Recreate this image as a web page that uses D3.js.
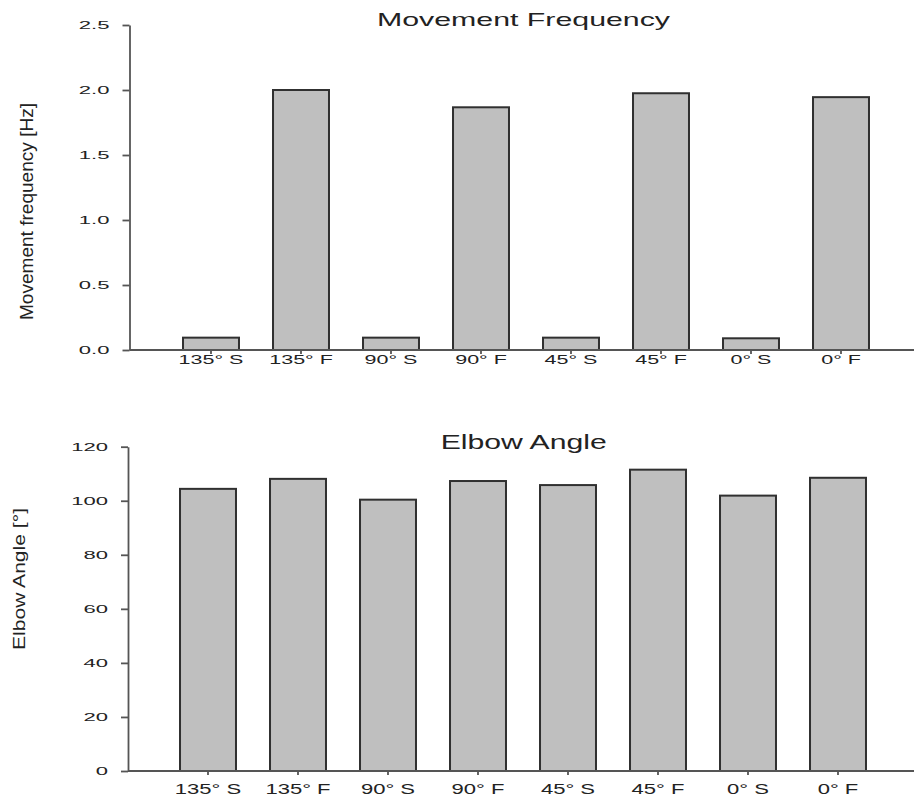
<!DOCTYPE html>
<html>
<head>
<meta charset="utf-8">
<script src="https://cdn.jsdelivr.net/npm/d3@7"></script>
<style>
  html, body { margin: 0; padding: 0; background: #fff; }
  svg { display: block; }
  text { font-family: "Liberation Sans", Arial, sans-serif; fill: #222; }
</style>
</head>
<body>
<svg id="chart" width="914" height="798"></svg>
<script>
// ---- data ----
const categories = ["135° S", "135° F", "90° S", "90° F", "45° S", "45° F", "0° S", "0° F"];
const frequencyValues = [0.095, 2.0, 0.095, 1.867, 0.095, 1.975, 0.09, 1.945];
const elbowAngleValues = [104.4, 108.1, 100.4, 107.3, 105.8, 111.5, 101.9, 108.5];
const frequencyTicks = [0, 0.5, 1.0, 1.5, 2.0, 2.5];
const angleTicks = [0, 20, 40, 60, 80, 100, 120];

const svg = d3.select("#chart");

// stretch text horizontally by factor (glyphs + spacing)
function stretch(sel, factor) {
  sel.each(function() {
    const len = this.getComputedTextLength();
    d3.select(this).attr("textLength", len * factor).attr("lengthAdjust", "spacingAndGlyphs");
  });
}

function panel(cfg) {
  const g = svg.append("g");
  const y = d3.scaleLinear().domain(cfg.yDomain).range([cfg.yBottom, cfg.yTop]);
  const x = d3.scaleBand().domain(categories).range(cfg.xRange)
    .paddingInner(0.378).paddingOuter(0.189);

  // bars
  g.selectAll("rect.bar").data(cfg.values).join("rect")
    .attr("class", "bar")
    .attr("x", (d, i) => x(categories[i]))
    .attr("width", x.bandwidth())
    .attr("y", d => y(d))
    .attr("height", d => y(0) - y(d))
    .attr("fill", "#bfbfbf")
    .attr("stroke", "#303030")
    .attr("stroke-width", 2);

  // x axis line
  g.append("line")
    .attr("x1", cfg.axisX).attr("x2", 914)
    .attr("y1", y(0)).attr("y2", y(0))
    .attr("stroke", "#555").attr("stroke-width", 1.8);

  // x axis ticks + labels
  const xAxis = g.append("g")
    .attr("transform", `translate(0,${y(0)})`)
    .call(d3.axisBottom(x).tickSize(4).tickSizeOuter(0));
  xAxis.select(".domain").remove();
  xAxis.selectAll(".tick line").attr("stroke", "#555").attr("stroke-width", 1.8);
  xAxis.selectAll(".tick text")
    .attr("y", cfg.xLabelBaseline).attr("dy", 0)
    .style("font-size", cfg.xFont + "px")
    .attr("fill", "#333")
    .call(stretch, cfg.xStretch);

  // y axis
  const yAxis = g.append("g")
    .attr("transform", `translate(${cfg.axisX},0)`)
    .call(d3.axisLeft(y).tickValues(cfg.yTicks).tickFormat(cfg.yFormat).tickSize(7).tickSizeOuter(0));
  yAxis.select(".domain").attr("stroke", "#555").attr("stroke-width", 1.8);
  yAxis.selectAll(".tick line").attr("stroke", "#555").attr("stroke-width", 1.8);
  yAxis.selectAll(".tick text")
    .attr("x", -20)
    .style("font-size", "10.5px")
    .attr("fill", "#333")
    .call(stretch, 2.1);

  // title
  g.append("text")
    .attr("x", cfg.titleX).attr("y", cfg.titleY)
    .attr("text-anchor", "middle")
    .style("font-size", cfg.titleFont + "px")
    .attr("textLength", cfg.titleWidth).attr("lengthAdjust", "spacingAndGlyphs")
    .text(cfg.title);

  // y label
  g.append("text")
    .attr("transform", `translate(${cfg.yLabelX},${cfg.yLabelY}) rotate(-90)`)
    .attr("text-anchor", "middle")
    .style("font-size", cfg.yLabelFont + "px")
    .attr("textLength", cfg.yLabelLen).attr("lengthAdjust", "spacingAndGlyphs")
    .text(cfg.yLabel);
}

panel({
  values: frequencyValues,
  yDomain: [0, 2.5], yTicks: frequencyTicks, yFormat: d3.format(".1f"),
  yTop: 25, yBottom: 350, axisX: 129.5, xRange: [166, 886],
  xLabelBaseline: 14, xFont: 12.5, xStretch: 1.72,
  title: "Movement Frequency", titleX: 523.5, titleY: 26, titleFont: 17.7, titleWidth: 293,
  yLabel: "Movement frequency [Hz]", yLabelX: 33.3, yLabelY: 211.5, yLabelFont: 17.7, yLabelLen: 217
});

panel({
  values: elbowAngleValues,
  yDomain: [0, 120], yTicks: angleTicks, yFormat: d3.format("d"),
  yTop: 446.7, yBottom: 771, axisX: 128, xRange: [163, 883],
  xLabelBaseline: 23, xFont: 15.2, xStretch: 1.45,
  title: "Elbow Angle", titleX: 523.7, titleY: 449, titleFont: 19.5, titleWidth: 166,
  yLabel: "Elbow Angle [°]", yLabelX: 25, yLabelY: 579, yLabelFont: 16.3, yLabelLen: 142
});
</script>
</body>
</html>
